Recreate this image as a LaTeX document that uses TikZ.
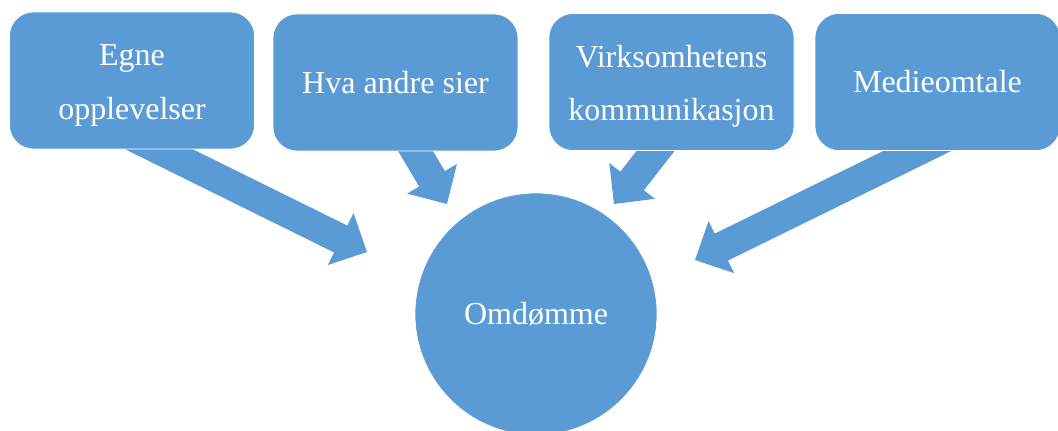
\documentclass[tikz,border=0pt]{standalone}
\usepackage{fontspec}
\setmainfont{Liberation Serif}
\usetikzlibrary{calc}
\definecolor{officeblue}{HTML}{5B9BD5}
\newcommand\topstrut{\rule{0pt}{23pt}}
\tikzset{
  srcbox/.style={rectangle, rounded corners=18pt, fill=officeblue, draw=white, line width=0.5pt,
    minimum width=183.75pt, minimum height=102.75pt, text=white, align=center,
    font=\fontsize{24}{40}\selectfont, inner sep=0pt},
  goalcircle/.style={circle, fill=officeblue, draw=white, line width=0.5pt, minimum size=181.5pt,
    text=white, font=\fontsize{24}{40}\selectfont, inner sep=0pt},
  arrowfill/.style={fill=officeblue}
}
\newcommand\blockarrow[3]{%
  \coordinate (#3) at ($(#2)!22pt!(#1)$);
  \fill[arrowfill] ($(#1)!11.25pt!90:(#2)$) -- ($(#3)!11.25pt!90:(#2)$) -- ($(#3)!21.75pt!90:(#2)$) -- (#2)
    -- ($(#3)!21.75pt!-90:(#2)$) -- ($(#3)!11.25pt!-90:(#2)$) -- ($(#1)!11.25pt!-90:(#2)$) -- cycle;}
\begin{document}
\begin{tikzpicture}[x=0.75pt,y=-0.75pt]
\useasboundingbox (0,0) rectangle (1058,430);
\begin{scope}
\clip (0,0) rectangle (1058,430);
% tails and tips
\coordinate (t1) at (120,130);
\coordinate (p1) at (367,252);
\coordinate (t2) at (403,130);
\coordinate (p2) at (447,204);
\coordinate (t3) at (672,130);
\coordinate (p3) at (614,204);
\coordinate (t4) at (960,130);
\coordinate (p4) at (695,260);
\blockarrow{t1}{p1}{h1}
\blockarrow{t2}{p2}{h2}
\blockarrow{t3}{p3}{h3}
\blockarrow{t4}{p4}{h4}
\node[srcbox] (b1) at (132,80.5) {\topstrut Egne\\opplevelser};
\node[srcbox] (b2) at (395.5,82.5) {Hva andre sier};
\node[srcbox] (b3) at (671.5,82) {\topstrut Virksomhetens\\kommunikasjon};
\node[srcbox] (b4) at (937.5,82) {Medieomtale};
\node[goalcircle] (c) at (536,314) {Omdømme};
\end{scope}
\end{tikzpicture}
\end{document}
